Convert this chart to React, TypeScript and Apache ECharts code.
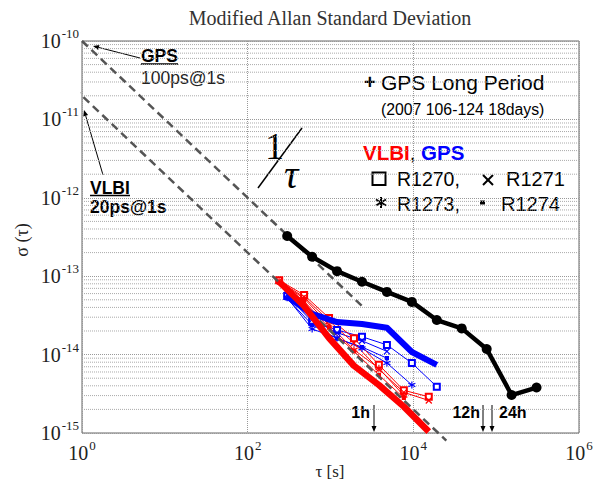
import React, { useEffect, useRef } from 'react';
import * as echarts from 'echarts';

// GPS long period (2007 106-124, 18 days)
const longTau = [300, 600, 1200, 2400, 4800, 9600, 19200, 38400, 76800, 153600, 307200];
const longSigma = [3.26e-13, 1.77e-13, 1.16e-13, 8.5e-14, 6.3e-14, 4.7e-14, 2.76e-14, 2.16e-14, 1.18e-14, 3.05e-15, 3.8e-15];

// VLBI sessions (red)
const vlbiTau = [240, 480, 960, 1920, 3840, 7680, 15360];
const vlbiMean = [8.5e-14, 4.17e-14, 1.63e-14, 7.2e-15, 4.1e-15, 2.17e-15, 1.04e-15];
const vlbiR1270 = [8.9e-14, 5.75e-14, 2.93e-14, 1.62e-14, 7.4e-15, 3.5e-15, 2.9e-15];
const vlbiR1271 = [8.7e-14, 5.4e-14, 2.7e-14, 1.4e-14, 6.5e-15, 3.3e-15, 2.6e-15];
const vlbiR1273 = [8.5e-14, 5.2e-14, 2.4e-14, 1.15e-14, 6.7e-15, 3.0e-15];
const vlbiR1274 = [8.3e-14, 4.8e-14, 2.2e-14, 1.1e-14, 5.5e-15, 2.8e-15];

// GPS during sessions (blue)
const gpsTau = [300, 600, 1200, 2400, 4800, 9600, 19200];
const gpsMean = [5.5e-14, 3.3e-14, 2.6e-14, 2.45e-14, 2.2e-14, 1.08e-14, 7.4e-15];
const gpsR1270 = [5.6e-14, 2.63e-14, 2.06e-14, 1.69e-14, 1.33e-14, 7.8e-15, 3.9e-15];
const gpsR1271 = [5.8e-14, 2.8e-14, 1.9e-14, 1.5e-14, 1.1e-14];
const gpsR1273 = [5.3e-14, 2.12e-14, 1.63e-14, 1.2e-14, 7.8e-15, 4.1e-15];
const gpsR1274 = [5.2e-14, 2.4e-14, 1.6e-14, 1.25e-14, 9e-15];

// reference 1/tau lines
const gpsRefTau = [1, 2400];
const gpsRefAt1s = 1e-10;
const vlbiRefTau = [0.8, 25000];
const vlbiRefAt1s = 2e-11;

const xRange = [1, 1e6];
const yRange = [1e-15, 1e-10];
const yDecades = [-15, -14, -13, -12, -11];
const minorMult = [2, 3, 4, 5, 6, 7, 8, 9];

const SERIF = 'Liberation Serif';
const SANS = 'Liberation Sans';

const pair = (xs: number[], ys: number[]) => ys.map((y, i) => [xs[i], y]);

const SYM_X = 'path://M0,0L10,10M10,0L0,10';
const SYM_STAR = 'path://M5,0L5,10M0.7,2.5L9.3,7.5M0.7,7.5L9.3,2.5';

function thin(name: string, data: number[][], color: string, kind: string) {
  let symbol = 'emptyRect';
  let size = 6;
  if (kind === 'x') { symbol = SYM_X; size = 6; }
  if (kind === 'star') { symbol = SYM_STAR; size = 7; }
  if (kind === 'dot') { symbol = 'rect'; size = 3; }
  return {
    name,
    type: 'line',
    data,
    symbol,
    symbolSize: size,
    lineStyle: { color, width: 1 },
    itemStyle: { color, borderColor: color, borderWidth: 1.2 },
    z: 3,
  };
}

function arrow(x1: number, y1: number, x2: number, y2: number, head = 6) {
  const a = Math.atan2(y2 - y1, x2 - x1);
  const w = 2.5;
  const bx = x2 - head * Math.cos(a);
  const by = y2 - head * Math.sin(a);
  const px = -Math.sin(a) * w;
  const py = Math.cos(a) * w;
  return [
    { type: 'line', shape: { x1, y1, x2: bx, y2: by }, style: { stroke: '#000', lineWidth: 1 } },
    {
      type: 'polygon',
      shape: { points: [[x2, y2], [bx + px, by + py], [bx - px, by - py]] },
      style: { fill: '#000' },
    },
  ];
}

function txt(text: string, x: number, y: number, size: number, opts: any = {}) {
  return {
    type: 'text', x, y, rotation: opts.rotation || 0,
    style: {
      text,
      fontSize: size,
      fontFamily: opts.family || SANS,
      fontWeight: opts.weight || 'normal',
      fontStyle: opts.style || 'normal',
      fill: opts.fill || '#000',
      textAlign: opts.align || 'left',
      textVerticalAlign: 'middle',
    },
  };
}

export default function App() {
  const ref = useRef<HTMLDivElement>(null);
  useEffect(() => {
    if (!ref.current) return;
    const chart = echarts.init(ref.current, undefined, { renderer: 'svg' });
    const minorVals: number[] = [];
    yDecades.forEach((e) => minorMult.forEach((m) => minorVals.push(m * Math.pow(10, e))));

    const expOf = (v: number) => Math.round(Math.log10(v));
    const labelRich = {
      a: { fontFamily: SERIF, fontSize: 20, color: '#222' },
      b: { fontFamily: SERIF, fontSize: 13, color: '#222', padding: [0, 0, 15, 1] },
    };

    const minorGridSeries = minorVals.map((v, i) => ({
      name: 'minor-grid-' + i, type: 'line', silent: true, symbol: 'none',
      data: [[xRange[0], v], [xRange[1], v]],
      lineStyle: { type: 'dotted', color: '#aaa', width: 1 },
      z: 1,
    }));

    const option: any = {
      animation: false,
      backgroundColor: '#fff',
      grid: {
        left: 82, top: 41, right: 18, bottom: 53,
        show: true, borderColor: '#666', borderWidth: 1, backgroundColor: 'transparent',
      },
      xAxis: {
        type: 'log', logBase: 100, min: xRange[0], max: xRange[1],
        axisLine: { show: false }, axisTick: { show: false },
        splitLine: { show: true, lineStyle: { type: 'dotted', color: '#999', width: 1 } },
        axisLabel: {
          margin: 6,
          formatter: (v: number) => `{a|10}{b|${expOf(v)}}`,
          rich: labelRich,
        },
      },
      yAxis: {
        type: 'log', logBase: 10, min: yRange[0], max: yRange[1],
        axisLine: { show: false }, axisTick: { show: false },
        splitLine: { show: true, lineStyle: { type: 'dotted', color: '#999', width: 1 } },
        axisLabel: {
          margin: 3,
          formatter: (v: number) => `{a|10}{b|${expOf(v)}}`,
          rich: labelRich,
        },
      },
      series: [
        ...minorGridSeries,
        thin('GPS R1270', pair(gpsTau, gpsR1270), '#0000ff', 'square'),
        thin('GPS R1271', pair(gpsTau, gpsR1271), '#0000ff', 'x'),
        thin('GPS R1273', pair(gpsTau, gpsR1273), '#0000ff', 'star'),
        thin('GPS R1274', pair(gpsTau, gpsR1274), '#0000ff', 'dot'),
        thin('VLBI R1270', pair(vlbiTau, vlbiR1270), '#ff0000', 'square'),
        thin('VLBI R1271', pair(vlbiTau, vlbiR1271), '#ff0000', 'x'),
        thin('VLBI R1273', pair(vlbiTau, vlbiR1273), '#ff0000', 'star'),
        thin('VLBI R1274', pair(vlbiTau, vlbiR1274), '#ff0000', 'dot'),
        {
          name: 'GPS 100ps@1s', type: 'line', clip: false, symbol: 'none',
          data: gpsRefTau.map((t) => [t, gpsRefAt1s / t]),
          lineStyle: { color: '#555', width: 2.5, type: [8, 5] }, z: 4,
        },
        {
          name: 'VLBI 20ps@1s', type: 'line', clip: false, symbol: 'none',
          data: vlbiRefTau.map((t) => [t, vlbiRefAt1s / t]),
          lineStyle: { color: '#555', width: 2.5, type: [8, 5] }, z: 4,
        },
        {
          name: 'GPS mean', type: 'line', symbol: 'none', data: pair(gpsTau, gpsMean),
          lineStyle: { color: '#0000ff', width: 6, join: 'round' }, z: 5,
        },
        {
          name: 'VLBI mean', type: 'line', symbol: 'none', data: pair(vlbiTau, vlbiMean),
          lineStyle: { color: '#ff0000', width: 6.5, join: 'round' }, z: 6,
        },
        {
          name: 'GPS Long Period', type: 'line', data: pair(longTau, longSigma),
          symbol: 'circle', symbolSize: 10,
          lineStyle: { color: '#000', width: 4.5 }, itemStyle: { color: '#000' }, z: 7,
        },
      ],
      graphic: [
        txt('Modified Allan Standard Deviation', 330, 18, 20, { family: SERIF, fill: '#333', align: 'center' }),
        txt('τ [s]', 330, 471, 17, { family: SERIF, fill: '#222', align: 'center' }),
        txt('σ (τ)', 22, 240, 18, { family: SERIF, fill: '#222', align: 'center', rotation: Math.PI / 2 }),

        txt('GPS', 141, 56, 17.5, { weight: 'bold' }),
        { type: 'line', shape: { x1: 141, y1: 64, x2: 178, y2: 64 }, style: { stroke: '#000', lineWidth: 1.5 } },
        txt('100ps@1s', 141, 78, 17.5, { fill: '#222' }),
        ...arrow(140, 58, 93, 46),

        txt('VLBI', 90, 188, 17.5, { weight: 'bold' }),
        { type: 'line', shape: { x1: 90, y1: 195.5, x2: 130, y2: 195.5 }, style: { stroke: '#000', lineWidth: 1.5 } },
        txt('20ps@1s', 90, 207, 17.5, { weight: 'bold' }),
        ...arrow(103, 175, 84, 110),

        txt('1', 265, 146, 38, { family: SERIF }),
        { type: 'line', shape: { x1: 258, y1: 188, x2: 302, y2: 128 }, style: { stroke: '#000', lineWidth: 1.5 } },
        txt('τ', 284, 174, 40, { family: SERIF, style: 'italic' }),

        txt('+', 364, 82, 20, { weight: 'bold' }),
        txt('GPS Long Period', 381, 82, 21),
        txt('(2007 106-124 18days)', 381, 109, 15.8),

        {
          type: 'text', x: 363, y: 152,
          style: {
            text: '{r|VLBI}{k|, }{b|GPS}', textAlign: 'left', textVerticalAlign: 'middle',
            rich: {
              r: { fontFamily: SANS, fontSize: 20.5, fontWeight: 'bold', fill: '#ff0000' },
              k: { fontFamily: SANS, fontSize: 20.5, fontWeight: 'normal', fill: '#000' },
              b: { fontFamily: SANS, fontSize: 20.5, fontWeight: 'bold', fill: '#0000ff' },
            },
          },
        },
        { type: 'rect', shape: { x: 372.5, y: 172.5, width: 13, height: 12.5 }, style: { stroke: '#000', fill: 'none', lineWidth: 2 } },
        txt('R1270,', 397, 179, 19.5),
        { type: 'line', shape: { x1: 483, y1: 175, x2: 493, y2: 185 }, style: { stroke: '#000', lineWidth: 2 } },
        { type: 'line', shape: { x1: 493, y1: 175, x2: 483, y2: 185 }, style: { stroke: '#000', lineWidth: 2 } },
        txt('R1271', 506, 179, 20),

        { type: 'line', shape: { x1: 381, y1: 197, x2: 381, y2: 208 }, style: { stroke: '#000', lineWidth: 2 } },
        { type: 'line', shape: { x1: 376, y1: 199.5, x2: 386, y2: 205.5 }, style: { stroke: '#000', lineWidth: 2 } },
        { type: 'line', shape: { x1: 376, y1: 205.5, x2: 386, y2: 199.5 }, style: { stroke: '#000', lineWidth: 2 } },
        txt('R1273,', 397, 204, 19.5),
        { type: 'rect', shape: { x: 480, y: 200.5, width: 5, height: 4 }, style: { fill: '#000' } },
        txt('R1274', 501, 204, 20),

        txt('1h', 370, 412, 16, { weight: 'bold', align: 'right' }),
        ...arrow(374, 405, 374, 432),
        txt('12h', 480, 412, 16, { weight: 'bold', align: 'right' }),
        ...arrow(483, 405, 483, 432),
        ...arrow(492, 405, 492, 432),
        txt('24h', 499, 412, 16, { weight: 'bold' }),
      ],
    };
    chart.setOption(option);
    return () => chart.dispose();
  }, []);
  return <div ref={ref} style={{ width: 597, height: 486, position: 'absolute', left: 0, top: 0 }} />;
}
